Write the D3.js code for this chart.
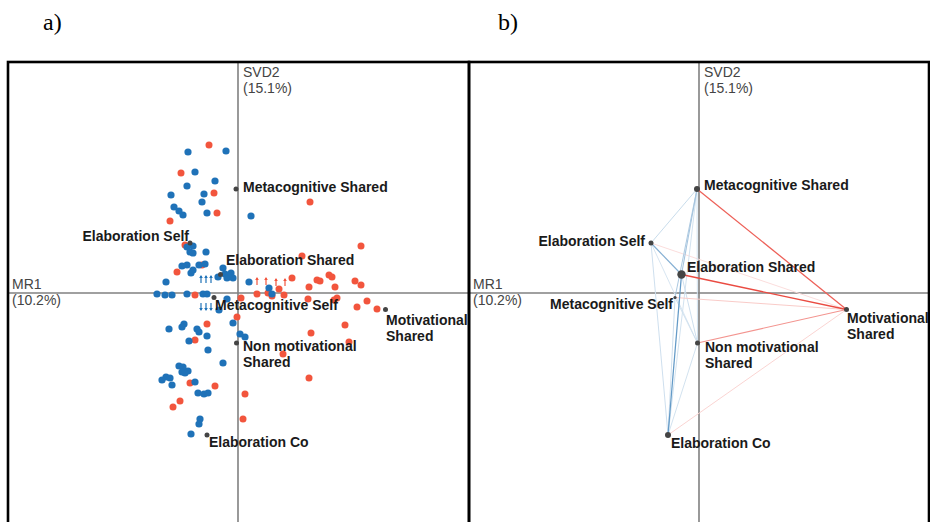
<!DOCTYPE html>
<html>
<head>
<meta charset="utf-8">
<script src="https://cdn.jsdelivr.net/npm/d3@7"></script>
<style>
body{margin:0;background:#fff;}
</style>
</head>
<body>
<div id="chart"></div>
<script>
// individual observations (panel a)
var redX = [-0.29,-0.57,-0.24,-0.21,-0.68,-0.53,0.72,1.23,0.64,-0.36,-0.61,0.54,0.79,0.82,0.91,0.94,1.17,1.23,0.97,0.71,0.41,-0.43,0.19,0.30,0.34,0.46,0.03,0.70,0.99,0.96,1.19,1.29,1.39,-0.01,-0.31,1.07,0.73,1.11,-0.43,0.45,0.71,-0.48,-0.23,0.07,-0.58,-0.65,0.05];
var redY = [1.48,1.20,1.00,0.80,0.72,0.48,0.91,0.47,0.37,0.28,0.21,0.15,0.13,0.12,0.18,0.16,0.12,0.08,0.06,0.06,0.04,-0.02,-0.01,0.00,-0.03,-0.02,-0.05,-0.06,-0.05,-0.07,-0.14,-0.08,-0.16,-0.24,-0.31,-0.32,-0.40,-0.49,-0.47,-0.61,-0.85,-0.90,-0.93,-1.01,-1.08,-1.14,-1.26];

var blueX = [-0.50,-0.12,-0.43,-0.23,-0.51,-0.34,-0.67,-0.36,-0.64,-0.59,-0.55,-0.31,0.13,-0.51,-0.45,-0.48,-0.45,-0.32,-0.56,-0.51,-0.39,-0.33,-0.47,-0.45,-0.15,-0.13,-0.20,-0.11,-0.07,-0.05,-0.72,0.11,-0.81,-0.73,-0.66,-0.51,-0.35,-0.31,0.31,0.34,-0.11,-0.19,-0.05,-0.54,-0.56,-0.69,-0.41,-0.39,-0.31,-0.49,0.02,0.07,-0.30,-0.15,-0.59,-0.55,-0.50,-0.56,-0.53,-0.72,-0.68,-0.76,-0.66,-0.43,-0.40,-0.34,-0.30,-0.38,-0.39,-0.47];
var blueY = [1.41,1.42,1.21,1.12,1.07,0.99,0.98,0.91,0.86,0.82,0.78,0.80,0.77,0.46,0.47,0.41,0.40,0.41,0.27,0.28,0.28,0.29,0.20,0.23,0.25,0.19,0.16,0.15,0.20,0.15,0.11,0.11,-0.01,-0.02,-0.02,-0.01,-0.01,-0.01,0.05,-0.01,-0.06,-0.17,-0.30,-0.31,-0.34,-0.36,-0.36,-0.39,-0.43,-0.48,-0.41,-0.44,-0.57,-0.70,-0.73,-0.74,-0.78,-0.79,-0.80,-0.84,-0.85,-0.87,-0.92,-0.89,-1.00,-1.01,-1.00,-1.26,-1.31,-1.41];

// small arrow glyphs near the origin (panel a)
var arrowX = [-0.37,-0.32,-0.27,-0.37,-0.32,-0.27,0.19,0.28,0.38,0.47];
var arrowY = [0.10,0.10,0.10,-0.10,-0.10,-0.10,0.08,0.08,0.07,0.07];
var arrowDir = ["up","up","up","down","down","down","up","up","up","up"];
var arrowGroup = ["blue","blue","blue","blue","blue","blue","red","red","red","red"];

// supplementary categories (both panels)
var catNames = ["Metacognitive Shared","Elaboration Self","Elaboration Shared","Metacognitive Self","Non motivational Shared","Elaboration Co","Motivational Shared"];
var catX = [-0.02,-0.48,-0.175,-0.24,-0.015,-0.31,1.475];
var catY = [1.04,0.50,0.185,-0.045,-0.50,-1.42,-0.165];

// network edges (panel b): source, target, weight (sign gives colour)
var edgeFrom = ["Elaboration Self","Elaboration Co","Metacognitive Shared","Elaboration Self","Metacognitive Self","Elaboration Co","Metacognitive Shared","Metacognitive Self","Elaboration Shared","Metacognitive Shared","Metacognitive Self","Elaboration Self","Metacognitive Shared","Metacognitive Shared","Elaboration Self","Non motivational Shared","Metacognitive Shared","Elaboration Shared","Elaboration Shared"];
var edgeTo = ["Motivational Shared","Motivational Shared","Elaboration Self","Elaboration Co","Non motivational Shared","Non motivational Shared","Non motivational Shared","Motivational Shared","Non motivational Shared","Elaboration Co","Elaboration Co","Non motivational Shared","Metacognitive Self","Elaboration Shared","Elaboration Shared","Motivational Shared","Motivational Shared","Elaboration Co","Motivational Shared"];
var edgeW = [-0.06,-0.1,0.14,0.12,0.1,0.1,0.1,-0.14,0.12,0.1,0.12,0.08,0.25,0.3,0.45,-0.4,-0.65,0.6,-0.75];

var axisTitleX = ["MR1","(10.2%)"];
var axisTitleY = ["SVD2","(15.1%)"];

// label placement (pixels from point), per panel
var labelA = {
  "Metacognitive Shared":{dx:7,dy:3,a:"start"},
  "Elaboration Self":{dx:-1,dy:-2,a:"end"},
  "Elaboration Shared":{dx:5.5,dy:-9.5,a:"start"},
  "Metacognitive Self":{dx:1,dy:12.5,a:"start"},
  "Non motivational Shared":{dx:6.5,dy:8,a:"start",br:true},
  "Elaboration Co":{dx:2,dy:12,a:"start"},
  "Motivational Shared":{dx:0.5,dy:15.5,a:"start",br:true}
};
var labelB = {
  "Metacognitive Shared":{dx:7,dy:0.5,a:"start"},
  "Elaboration Self":{dx:-6,dy:3,a:"end"},
  "Elaboration Shared":{dx:5.5,dy:-2.5,a:"start"},
  "Metacognitive Self":{dx:-2,dy:11.5,a:"end"},
  "Non motivational Shared":{dx:7.5,dy:9,a:"start",br:true},
  "Elaboration Co":{dx:3,dy:13,a:"start"},
  "Motivational Shared":{dx:0.5,dy:13.5,a:"start",br:true}
};
var radiusB = {"Metacognitive Shared":3,"Elaboration Self":2.5,"Elaboration Shared":4.2,"Metacognitive Self":1.6,"Non motivational Shared":2.5,"Elaboration Co":3,"Motivational Shared":2.5};

var W = 930, H = 522;
var frameTop = 62;
var colRed = "#f2553d", colBlue = "#1f72b8";

var svg = d3.select("#chart").append("svg")
  .attr("width",W)
  .attr("height",H);

var y = d3.scaleLinear().domain([2.31,-2.29]).range([frameTop,522]);
var xA = d3.scaleLinear().domain([-2.30,2.31]).range([8,469]);
var xB = d3.scaleLinear().domain([-2.30,2.30]).range([469,929]);

var font = "'Liberation Sans', Arial, Helvetica, sans-serif";

function drawFrame(x, tag){
  var r = x.range();
  svg.append("text")
    .attr("x", r[0] + (tag=="a)" ? 35 : 29))
    .attr("y",30)
    .style("font-family","'Liberation Serif', 'Times New Roman', serif")
    .style("font-size","24px")
    .text(tag);

  // axes through origin
  svg.append("line")
    .attr("x1",x(0)).attr("x2",x(0))
    .attr("y1",frameTop).attr("y2",H)
    .style("stroke","#808080").style("stroke-width",1.6);
  svg.append("line")
    .attr("x1",r[0]).attr("x2",r[1])
    .attr("y1",y(0)).attr("y2",y(0))
    .style("stroke","#808080").style("stroke-width",1.6);

  var t1 = svg.append("text")
    .attr("x",x(0)+5).attr("y",frameTop+15)
    .style("font-family",font).style("font-size","14px").style("fill","#444");
  axisTitleY.forEach(function(s,i){
    t1.append("tspan").attr("x",x(0)+5).attr("dy",i?16:0).text(s);
  });
  var t2 = svg.append("text")
    .attr("x",r[0]+4).attr("y",y(0)-4.5)
    .style("font-family",font).style("font-size","14px").style("fill","#444");
  axisTitleX.forEach(function(s,i){
    t2.append("tspan").attr("x",r[0]+4).attr("dy",i?16:0).text(s);
  });
}

function drawLabels(g, x, lay){
  catNames.forEach(function(n,i){
    var L = lay[n];
    var px = x(catX[i]) + L.dx, py = y(catY[i]) + L.dy;
    var t = g.append("text")
      .attr("x",px).attr("y",py)
      .attr("text-anchor",L.a)
      .style("font-family",font)
      .style("font-size","14px")
      .style("font-weight","bold")
      .style("fill","#1a1a1a");
    if(L.br){
      var parts = n.split(" ");
      var last = parts.pop();
      t.append("tspan").attr("x",px).text(parts.join(" "));
      t.append("tspan").attr("x",px).attr("dy",16).text(last);
    } else {
      t.text(n);
    }
  });
}

drawFrame(xA,"a)");
drawFrame(xB,"b)");

// ---- panel a ----
var gA = svg.append("g");

gA.selectAll(".red").data(d3.range(redX.length)).enter()
  .append("circle")
  .attr("class","red")
  .attr("cx",function(i){ return xA(redX[i]); })
  .attr("cy",function(i){ return y(redY[i]); })
  .attr("r",3.5)
  .style("fill",colRed);

gA.selectAll(".blue").data(d3.range(blueX.length)).enter()
  .append("circle")
  .attr("class","blue")
  .attr("cx",function(i){ return xA(blueX[i]); })
  .attr("cy",function(i){ return y(blueY[i]); })
  .attr("r",3.6)
  .style("fill",colBlue);

// tiny arrows
arrowX.forEach(function(ax,i){
  var cx = xA(ax), cy = y(arrowY[i]);
  var s = arrowDir[i]=="up" ? -1 : 1;
  var c = arrowGroup[i]=="red" ? colRed : colBlue;
  gA.append("line")
    .attr("x1",cx).attr("x2",cx)
    .attr("y1",cy).attr("y2",cy+s*7)
    .style("stroke",c).style("stroke-width",1.2);
  gA.append("path")
    .attr("d","M"+(cx-1.8)+","+(cy+s*5)+"L"+cx+","+(cy+s*8)+"L"+(cx+1.8)+","+(cy+s*5)+"Z")
    .style("fill",c);
});

gA.selectAll(".cat").data(d3.range(catNames.length)).enter()
  .append("circle")
  .attr("class","cat")
  .attr("cx",function(i){ return xA(catX[i]); })
  .attr("cy",function(i){ return y(catY[i]); })
  .attr("r",2.5)
  .style("fill","#444");

drawLabels(gA, xA, labelA);

// ---- panel b ----
var gB = svg.append("g");
var idx = {};
catNames.forEach(function(n,i){ idx[n] = i; });

var edges = edgeFrom.map(function(f,i){
  return {s:idx[f], t:idx[edgeTo[i]], w:edgeW[i]};
}).sort(function(a,b){ return Math.abs(a.w) - Math.abs(b.w); });

gB.selectAll(".edge").data(edges).enter()
  .append("line")
  .attr("class","edge")
  .attr("x1",function(d){ return xB(catX[d.s]); })
  .attr("y1",function(d){ return y(catY[d.s]); })
  .attr("x2",function(d){ return xB(catX[d.t]); })
  .attr("y2",function(d){ return y(catY[d.t]); })
  .style("stroke",function(d){
    var base = d.w < 0 ? "#e8392f" : "#2f78b4";
    return d3.interpolateRgb("#ffffff", base)(0.12 + Math.abs(d.w)*1.05);
  })
  .style("stroke-width",function(d){ return 0.9 + Math.abs(d.w)*0.6; });

gB.selectAll(".cat").data(d3.range(catNames.length)).enter()
  .append("circle")
  .attr("class","cat")
  .attr("cx",function(i){ return xB(catX[i]); })
  .attr("cy",function(i){ return y(catY[i]); })
  .attr("r",function(i){ return radiusB[catNames[i]]; })
  .style("fill","#444");

drawLabels(gB, xB, labelB);

// panel frames
[xA, xB].forEach(function(x){
  var r = x.range();
  svg.append("rect")
    .attr("x",r[0]).attr("y",frameTop)
    .attr("width",r[1]-r[0]).attr("height",H+10-frameTop)
    .style("fill","none")
    .style("stroke","#000")
    .style("stroke-width",2.6);
});
</script>
</body>
</html>
